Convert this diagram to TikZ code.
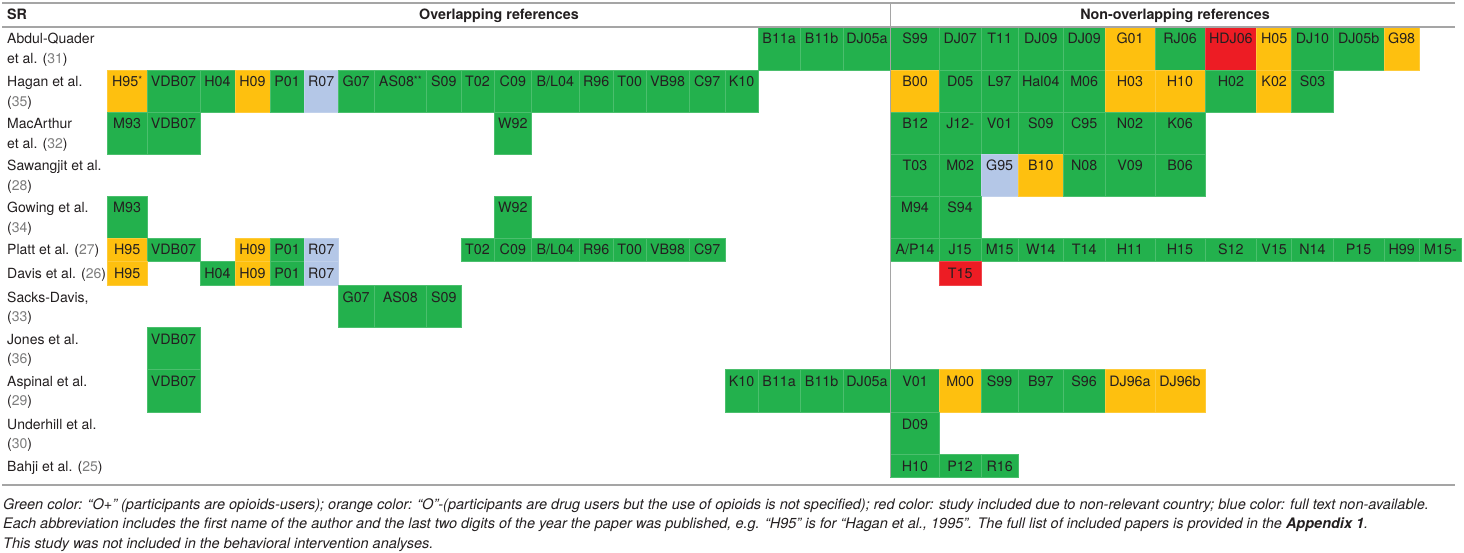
\documentclass[tikz,border=0pt]{standalone}
\usepackage{fontspec}
\setmainfont{TeX Gyre Heros}
\definecolor{cg}{RGB}{35,177,77}
\definecolor{co}{RGB}{254,192,15}
\definecolor{cr}{RGB}{237,28,36}
\definecolor{cb}{RGB}{180,199,231}
\definecolor{ink}{RGB}{35,31,32}
\definecolor{rulegray}{RGB}{165,165,165}
\definecolor{refnum}{RGB}{125,125,125}
\def\XB{{107.3,147,200,235,270,304,338.3,374,426.7,461,494,531.7,579,613.3,646,689.3,725,758.3,800,843.3,890.7,939.3,981,1018.3,1063.3,1105,1155,1205,1256.7,1291.7,1333.3,1384,1419.3,1461.7}}
\def\YB{{27,70,112,154,196,238,261.5,285,327,369.3,412,454,477}}
\newcommand\cel[4]{%
  \pgfmathsetmacro\xa{\XB[#1-1]}%
  \pgfmathsetmacro\xb{\XB[#1]}%
  \pgfmathsetmacro\ya{\YB[#2-1]}%
  \pgfmathsetmacro\yb{\YB[#2]}%
  \path[fill=#3, draw=#3!82!white, line width=0.6pt] (\xa,\ya) rectangle (\xb,\yb);%
  \node[celltext] (c#1r#2) at ({(\xa+\xb)/2},{\ya+17}) {#4};%
}
\newcommand\labone[2]{%
  \pgfmathsetmacro\ya{\YB[#1-1]}%
  \node[labtext] (l#1a) at (7,{\ya+17}) {#2};%
}
\newcommand\labtwo[3]{%
  \pgfmathsetmacro\ya{\YB[#1-1]}%
  \node[labtext] (l#1a) at (7,{\ya+17}) {#2};%
  \node[labtext] (l#1b) at (7,{\ya+36.5}) {#3};%
}
\newcommand\rn[1]{(\textcolor{refnum}{#1})}
\newcommand\st{\raisebox{0.45ex}{\fontsize{10}{10}\selectfont*}}
\begin{document}
\begin{tikzpicture}[x=1pt,y=-1pt,
  celltext/.style={anchor=base, inner sep=0pt, text=ink, font=\fontsize{14.3}{16}\selectfont},
  labtext/.style={anchor=base west, inner sep=0pt, text=ink, font=\fontsize{14}{16}\selectfont},
  headtext/.style={inner sep=0pt, text=ink, font=\fontsize{14.3}{16}\selectfont\bfseries},
  captext/.style={anchor=base west, inner sep=0pt, text=ink, font=\fontsize{14.5}{16}\selectfont\itshape},
  rulebold/.style={draw=rulegray, line width=2pt},
  rulethin/.style={draw=rulegray, line width=1.4pt}]
\useasboundingbox (0,0) rectangle (1464,553);
\fill[white] (0,0) rectangle (1464,553);
% row 1
\cel{18}{1}{cg}{B11a}\cel{19}{1}{cg}{B11b}\cel{20}{1}{cg}{DJ05a}
\cel{21}{1}{cg}{S99}\cel{22}{1}{cg}{DJ07}\cel{23}{1}{cg}{T11}\cel{24}{1}{cg}{DJ09}\cel{25}{1}{cg}{DJ09}
\cel{26}{1}{co}{G01}\cel{27}{1}{cg}{RJ06}\cel{28}{1}{cr}{HDJ06}\cel{29}{1}{co}{H05}\cel{30}{1}{cg}{DJ10}
\cel{31}{1}{cg}{DJ05b}\cel{32}{1}{co}{G98}
% row 2
\cel{1}{2}{co}{H95\st}\cel{2}{2}{cg}{VDB07}\cel{3}{2}{cg}{H04}\cel{4}{2}{co}{H09}\cel{5}{2}{cg}{P01}
\cel{6}{2}{cb}{R07}\cel{7}{2}{cg}{G07}\cel{8}{2}{cg}{AS08\st\st}\cel{9}{2}{cg}{S09}\cel{10}{2}{cg}{T02}
\cel{11}{2}{cg}{C09}\cel{12}{2}{cg}{B/L04}\cel{13}{2}{cg}{R96}\cel{14}{2}{cg}{T00}\cel{15}{2}{cg}{VB98}
\cel{16}{2}{cg}{C97}\cel{17}{2}{cg}{K10}
\cel{21}{2}{co}{B00}\cel{22}{2}{cg}{D05}\cel{23}{2}{cg}{L97}\cel{24}{2}{cg}{Hal04}\cel{25}{2}{cg}{M06}
\cel{26}{2}{co}{H03}\cel{27}{2}{co}{H10}\cel{28}{2}{cg}{H02}\cel{29}{2}{co}{K02}\cel{30}{2}{cg}{S03}
% row 3
\cel{1}{3}{cg}{M93}\cel{2}{3}{cg}{VDB07}\cel{11}{3}{cg}{W92}
\cel{21}{3}{cg}{B12}\cel{22}{3}{cg}{J12-}\cel{23}{3}{cg}{V01}\cel{24}{3}{cg}{S09}\cel{25}{3}{cg}{C95}
\cel{26}{3}{cg}{N02}\cel{27}{3}{cg}{K06}
% row 4
\cel{21}{4}{cg}{T03}\cel{22}{4}{cg}{M02}\cel{23}{4}{cb}{G95}\cel{24}{4}{co}{B10}\cel{25}{4}{cg}{N08}
\cel{26}{4}{cg}{V09}\cel{27}{4}{cg}{B06}
% row 5
\cel{1}{5}{cg}{M93}\cel{11}{5}{cg}{W92}\cel{21}{5}{cg}{M94}\cel{22}{5}{cg}{S94}
% row 6
\cel{1}{6}{co}{H95}\cel{2}{6}{cg}{VDB07}\cel{4}{6}{co}{H09}\cel{5}{6}{cg}{P01}\cel{6}{6}{cb}{R07}
\cel{10}{6}{cg}{T02}\cel{11}{6}{cg}{C09}\cel{12}{6}{cg}{B/L04}\cel{13}{6}{cg}{R96}\cel{14}{6}{cg}{T00}
\cel{15}{6}{cg}{VB98}\cel{16}{6}{cg}{C97}
\cel{21}{6}{cg}{A/P14}\cel{22}{6}{cg}{J15}\cel{23}{6}{cg}{M15}\cel{24}{6}{cg}{W14}\cel{25}{6}{cg}{T14}
\cel{26}{6}{cg}{H11}\cel{27}{6}{cg}{H15}\cel{28}{6}{cg}{S12}\cel{29}{6}{cg}{V15}\cel{30}{6}{cg}{N14}
\cel{31}{6}{cg}{P15}\cel{32}{6}{cg}{H99}\cel{33}{6}{cg}{M15-}
% row 7
\cel{1}{7}{co}{H95}\cel{3}{7}{cg}{H04}\cel{4}{7}{co}{H09}\cel{5}{7}{cg}{P01}\cel{6}{7}{cb}{R07}
\cel{22}{7}{cr}{T15}
% row 8
\cel{7}{8}{cg}{G07}\cel{8}{8}{cg}{AS08}\cel{9}{8}{cg}{S09}
% row 9
\cel{2}{9}{cg}{VDB07}
% row 10
\cel{2}{10}{cg}{VDB07}\cel{17}{10}{cg}{K10}\cel{18}{10}{cg}{B11a}\cel{19}{10}{cg}{B11b}\cel{20}{10}{cg}{DJ05a}
\cel{21}{10}{cg}{V01}\cel{22}{10}{co}{M00}\cel{23}{10}{cg}{S99}\cel{24}{10}{cg}{B97}\cel{25}{10}{cg}{S96}
\cel{26}{10}{co}{DJ96a}\cel{27}{10}{co}{DJ96b}
% row 11
\cel{21}{11}{cg}{D09}
% row 12
\cel{21}{12}{cg}{H10}\cel{22}{12}{cg}{P12}\cel{23}{12}{cg}{R16}
% row labels
\labtwo{1}{Abdul-Quader}{et al. \rn{31}}
\labtwo{2}{Hagan et al.}{\rn{35}}
\labtwo{3}{MacArthur}{et al. \rn{32}}
\labtwo{4}{Sawangjit et al.}{\rn{28}}
\labtwo{5}{Gowing et al.}{\rn{34}}
\labone{6}{Platt et al. \rn{27}}
\labone{7}{Davis et al. \rn{26}}
\labtwo{8}{Sacks-Davis,}{\rn{33}}
\labtwo{9}{Jones et al.}{\rn{36}}
\labtwo{10}{Aspinal et al.}{\rn{29}}
\labtwo{11}{Underhill et al.}{\rn{30}}
\labone{12}{Bahji et al. \rn{25}}
% header
\node[headtext, anchor=base west] (hsr) at (7,20) {SR};
\node[headtext, anchor=base] (hov) at (499,20) {Overlapping references};
\node[headtext, anchor=base] (hno) at (1175,20) {Non-overlapping references};
% rules
\coordinate (t1) at (2,3); \coordinate (t2) at (1455,3);
\coordinate (h1) at (2,27); \coordinate (h2) at (1455,27);
\coordinate (b1) at (2,485); \coordinate (b2) at (1455,485);
\coordinate (v1) at (890.7,3); \coordinate (v2) at (890.7,477);
\draw[rulebold] (t1) -- (t2);
\draw[rulethin] (h1) -- (h2);
\draw[rulethin] (b1) -- (b2);
\draw[draw=rulegray, line width=1.2pt] (v1) -- (v2);
% caption
\node[captext] (cap1) at (3,509) {Green color: “O+” (participants are opioids-users); orange color: “O”-(participants are drug users but the use of opioids is not specified); red color: study included due to non-relevant country; blue color: full text non-available.};
\node[captext] (cap2) at (3,528.7) {Each abbreviation includes the first name of the author and the last two digits of the year the paper was published, e.g. “H95” is for “Hagan et al., 1995”. The full list of included papers is provided in the \textbf{Appendix 1}.};
\node[captext] (cap3) at (3,548.3) {This study was not included in the behavioral intervention analyses.};
\end{tikzpicture}
\end{document}
